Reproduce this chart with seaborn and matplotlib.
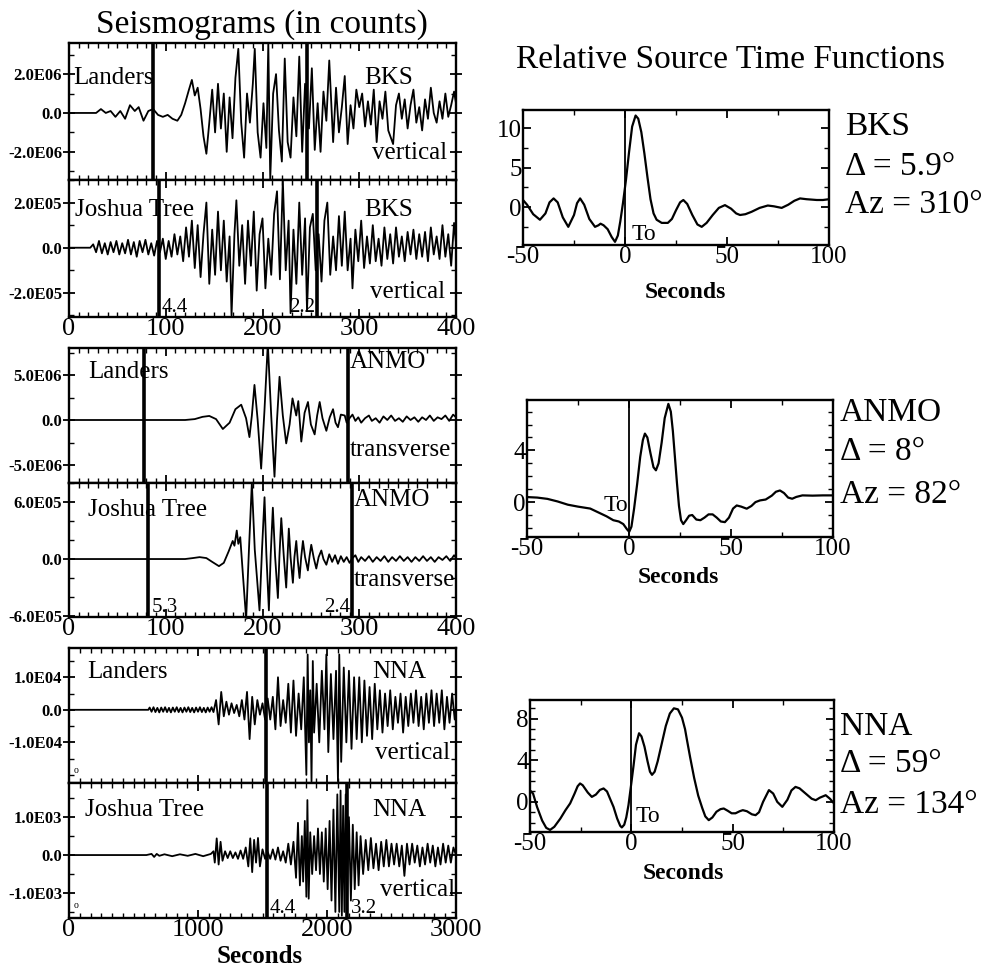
import numpy as np
import matplotlib
matplotlib.use("Agg")
import matplotlib.pyplot as plt
from matplotlib.ticker import MultipleLocator, FixedLocator
import seaborn as sns

sns.set_theme(style="ticks")
plt.rcParams['font.family'] = ['Liberation Serif', 'DejaVu Serif']
plt.rcParams.update({"text.color": "black", "axes.labelcolor": "black",
                     "xtick.color": "black", "ytick.color": "black", "axes.edgecolor": "black"})

# ---------------- data ----------------
# seismograms: (seconds, amplitude in units of the panel scale)
bks_landers = [(0,0),(28,0),(33,0.2),(38,0.0),(43,0.1),(48,-0.2),(53,0.1),(58,-0.3),(63,0.4),(68,0.1),
    (72,0.3),(77,-0.4),(82,0.1),(87,0.2),(92,-0.1),(97,-0.2),(102,-0.1),(107,-0.3),(112,-0.4),(116,-0.1),
    (120,0.5),(124,1.2),(127,1.7),(130,0.9),(133,1.3),(136,0.2),(139,-1.2),(142,-2.1),(145,-0.5),(148,1.2),
    (151,-1.0),(154,1.5),(157,-0.8),(160,1.0),(163,-2.0),(166,0.8),(169,-1.3),(172,1.8),(175,3.3),(178,-0.5),
    (181,-2.3),(184,1.0),(187,-0.5),(190,1.5),(192,3.3),(195,-1.0),(198,-2.3),(201,0.5),(204,-1.8),(206,3.6),
    (208,-3.4),(211,1.0),(214,2.0),(217,-0.9),(220,-2.5),(223,2.8),(226,-1.5),(229,-2.3),(232,0.8),(235,-1.2),
    (238,2.9),(241,-2.0),(244,1.5),(248,-0.8),(251,2.3),(254,-1.9),(257,0.5),(260,-2.0),(263,1.1),(266,-0.4),
    (269,2.7),(273,-1.5),(276,1.3),(279,-1.0),(282,0.3),(285,1.9),(288,-1.6),(291,0.4),(294,-0.8),(297,1.2),
    (300,0.3),(303,1.0),(306,-0.7),(309,0.6),(312,-0.6),(315,1.2),(318,-1.5),(321,0.6),(324,-0.3),(327,1.1),
    (330,-0.9),(335,-1.6),(338,0.4),(341,1.0),(344,-0.3),(347,0.7),(350,-0.8),(353,0.4),(356,1.2),(359,-0.5),
    (362,0.3),(365,-0.9),(368,0.7),(371,-0.3),(374,1.3),(377,0.0),(380,-0.5),(383,0.6),(386,-0.3),(389,1.0),
    (392,-0.2),(395,0.4),(398,1.1),(400,0.5)]
bks_joshua = [(0,0),(22,0),(25,0.15),(28,-0.2),(31,0.3),(34,-0.25),(37,0.2),(40,-0.3),(43,0.25),(46,-0.2),
    (49,0.3),(52,-0.3),(55,0.2),(58,-0.25),(61,0.35),(64,-0.3),(67,0.25),(70,-0.4),(73,0.3),(76,-0.2),
    (79,0.35),(82,-0.3),(85,0.2),(88,-0.35),(91,0.3),(94,-0.2),(97,0.4),(100,-0.5),(103,0.3),(106,-0.4),
    (109,0.6),(112,-0.3),(115,0.5),(118,-0.6),(121,0.9),(124,-0.4),(127,1.2),(130,-0.9),(133,1.0),(136,-1.3),
    (139,0.6),(142,2.0),(145,-1.6),(148,0.8),(151,-1.2),(154,1.6),(157,-1.0),(160,1.2),(163,-1.5),(166,0.5),
    (168,-3.0),(171,0.6),(173,2.1),(176,-0.8),(179,1.0),(182,-1.6),(185,1.2),(188,-0.8),(191,1.6),(194,-1.9),
    (197,0.6),(200,1.3),(203,-1.8),(206,0.4),(209,-1.2),(212,1.5),(215,2.5),(218,-1.4),(221,3.0),(224,-1.0),
    (227,1.2),(229,-2.9),(232,0.8),(235,-1.6),(238,2.0),(241,-1.2),(244,1.3),(246,-2.8),(249,0.9),(252,1.5),
    (255,-1.0),(258,0.6),(261,-1.5),(264,1.2),(267,2.0),(270,-1.2),(273,0.5),(276,-1.0),(279,1.4),(282,-0.8),
    (285,1.6),(288,-1.0),(291,0.4),(293,-1.8),(296,0.8),(299,-0.6),(302,1.2),(305,-0.9),(308,0.5),(311,-0.7),
    (314,1.0),(317,-0.6),(320,0.4),(323,-0.8),(326,0.9),(329,-0.5),(332,0.6),(335,-0.7),(338,0.9),(341,-0.4),
    (344,0.5),(347,-0.6),(350,0.7),(353,-0.3),(356,0.8),(359,-0.5),(362,0.6),(365,-0.4),(368,0.7),(371,-0.6),
    (374,0.9),(377,-0.3),(380,0.5),(383,-0.5),(386,1.0),(389,-0.4),(392,0.6),(395,-0.8),(398,1.1),(400,0.2)]
anmo_landers = [(0,0),(120,0),(130,0.1),(138,0.35),(145,0.45),(152,0.1),(159,-1.0),(166,-0.3),(172,1.2),
    (178,1.7),(183,0.2),(186.5,-1.9),(189,0.5),(191.7,3.9),(195,0.0),(198.6,-5.4),(202,1.0),(205.5,8.5),
    (209,0.5),(212.4,-6.3),(215,0.0),(217.6,4.8),(221,0.5),(224.5,-2.6),(228,-0.5),(231,2.4),(234.9,0.5),
    (237,2.1),(240.1,-2.4),(243.5,0.8),(247,2.0),(250,-0.5),(253.9,-1.6),(256.5,0.5),(259.1,2.0),(262,0.2),
    (266,-1.2),(269.5,0.3),(272.9,1.2),(275.5,-0.3),(278,-0.8),(281,0.6),(285,0.5),(287,-0.3),(290,0.2),
    (293,0.6),(296,-0.1),(299,0.3),(302,-0.3),(306,0.2),(310,0.5),(313,-0.1),(317,0.2),(321,-0.3),(325,0.4),
    (329,0.0),(333,0.5),(337,-0.1),(341,0.2),(345,-0.2),(349,0.4),(353,0.0),(357,0.3),(361,-0.2),(365,0.3),
    (369,0.0),(373,0.5),(377,-0.1),(381,0.3),(385,0.1),(389,0.5),(393,-0.1),(397,0.6),(400,0.3)]
anmo_joshua = [(0,0),(120,0),(128,0.1),(135,0.2),(142,0.1),(148,-0.3),(155,-0.75),(160,-0.4),(165,0.8),
    (169.2,1.9),(171,1.4),(173.4,3.0),(175,1.6),(177,2.3),(180,-2.0),(183.1,-6.3),(186,1.0),(189,8.0),
    (192,1.0),(196.9,-5.4),(199.5,1.0),(202.1,6.5),(204,0.5),(206.6,-5.4),(208.5,0.5),(210.7,5.4),(213,0.3),
    (215.9,-4.1),(217.5,0.3),(219.4,4.3),(222,0.3),(224.5,-3.0),(226,0.5),(227.2,3.2),(229,0.2),(231.4,-2.5),
    (233,0.2),(234.9,1.9),(236.5,-0.2),(238.3,-2.0),(240,0.2),(241.8,1.9),(244,0.2),(246.9,-1.2),(248.5,0.2),
    (250.4,1.5),(253,0.1),(255.6,-1.0),(258,0.2),(260.8,0.9),(263,0.0),(266,-0.6),(269,0.5),(272,-0.3),
    (275,0.4),(278,-0.5),(281,0.3),(284,-0.3),(287,0.2),(290,-0.4),(293,0.1),(296,0.4),(299,-0.3),(302,0.2),
    (306,-0.2),(310,0.3),(314,-0.3),(318,0.2),(322,-0.2),(326,0.3),(330,-0.3),(334,0.2),(338,-0.2),(342,0.3),
    (346,-0.2),(350,0.2),(354,-0.3),(358,0.2),(362,-0.2),(366,0.3),(370,-0.2),(374,0.2),(378,-0.3),(382,0.2),
    (386,-0.1),(390,0.3),(394,-0.2),(398,0.4),(400,0.1)]
nna_landers = [(0,0),(615,0),(625,0.07),(640,-0.06),(655,0.08),(670,-0.07),(685,0.06),(700,-0.08),
    (715,0.07),(730,-0.06),(745,0.08),(760,-0.07),(775,0.06),(790,-0.08),(805,0.07),(820,-0.06),
    (835,0.08),(850,-0.07),(865,0.06),(880,-0.08),(895,0.07),(910,-0.06),(925,0.08),(940,-0.07),
    (955,0.06),(970,-0.08),(985,0.07),(1000,-0.06),(1015,0.08),(1030,-0.07),(1045,0.06),(1060,-0.08),
    (1075,0.07),(1090,-0.06),(1105,0.08),(1120,-0.07),
    (1140,0.3),(1160,-0.45),(1180,0.55),(1200,-0.2),(1220,0.25),(1240,-0.15),(1260,0.2),(1280,-0.1),
    (1300,0.15),(1320,-0.2),(1340,0.3),(1360,-0.3),(1380,0.55),(1400,-0.9),(1420,0.4),(1440,-0.45),
    (1460,0.3),(1480,-0.15),(1500,0.2),(1520,-0.3),(1540,0.35),(1560,-0.3),(1580,0.4),(1600,-0.6),
    (1620,1.0),(1640,-0.5),(1660,0.3),(1680,-0.4),(1700,0.8),(1720,-0.7),(1740,0.9),(1760,-0.8),
    (1780,0.5),(1800,-0.6),(1820,1.0),(1840,-2.0),(1850,1.7),(1860,-1.0),(1870,0.6),(1880,-2.2),
    (1890,1.5),(1900,-0.7),(1920,0.8),(1940,-1.0),(1960,1.2),(1980,-0.6),(1995,1.7),(2010,-1.3),
    (2030,1.1),(2050,-0.9),(2070,1.2),(2085,-2.2),(2095,1.7),(2110,-1.6),(2130,1.3),(2150,-1.0),
    (2170,1.2),(2190,-1.2),(2210,1.0),(2230,-0.9),(2250,1.0),(2270,-1.0),(2290,0.9),(2310,-0.8),
    (2330,0.7),(2350,-0.9),(2370,0.8),(2390,-0.6),(2410,0.6),(2430,-0.7),(2450,0.5),(2470,-0.5),
    (2490,0.6),(2510,-0.6),(2530,0.4),(2550,-0.4),(2570,0.5),(2590,-0.7),(2610,0.4),(2630,-0.5),
    (2650,0.5),(2670,-0.4),(2690,0.6),(2710,-0.5),(2730,0.4),(2750,-0.6),(2770,0.5),(2790,-0.4),
    (2810,0.6),(2830,-0.5),(2850,0.5),(2870,-0.4),(2890,0.6),(2910,-0.6),(2930,0.4),(2950,-0.4),
    (2970,0.5),(2990,-0.3),(3000,0.1)]
nna_joshua = [(0,0),(600,0),(640,0.03),(660,-0.05),(680,0.03),(700,-0.02),(740,0.02),(800,-0.03),
    (860,0.02),(920,-0.02),(980,0.03),(1040,-0.03),(1100,0.03),
    (1120,0.1),(1130,-0.2),(1145,0.44),(1160,-0.25),(1175,0.35),(1190,-0.15),(1210,0.1),(1230,-0.08),
    (1250,0.1),(1270,-0.08),(1290,0.07),(1310,-0.1),(1330,0.12),(1350,-0.1),(1370,0.2),(1390,-0.3),
    (1405,0.44),(1420,-0.45),(1435,0.4),(1450,-0.2),(1465,0.45),(1480,-0.3),(1500,0.15),(1520,-0.1),
    (1540,0.08),(1560,-0.1),(1580,0.15),(1600,-0.12),(1620,0.2),(1640,-0.15),(1660,0.1),(1680,-0.2),
    (1700,0.3),(1720,-0.25),(1740,0.35),(1760,-0.6),(1775,0.85),(1790,-0.8),(1805,0.5),(1815,-0.7),
    (1828,0.9),(1840,-1.1),(1848,1.45),(1858,-1.15),(1870,0.6),(1885,-0.5),(1900,0.5),(1915,-0.4),
    (1930,0.7),(1945,-0.5),(1960,0.6),(1975,-0.7),(1990,0.7),(2005,-0.9),(2020,0.9),(2035,-1.2),
    (2050,1.2),(2065,-1.5),(2080,1.6),(2095,-1.5),(2105,1.7),(2115,-1.6),(2125,1.3),(2135,-1.5),
    (2145,1.6),(2155,-1.3),(2170,1.0),(2185,-1.2),(2200,0.8),(2215,-0.9),(2230,0.6),(2245,-0.8),
    (2260,0.5),(2280,-0.5),(2300,0.4),(2320,-0.4),(2340,0.45),(2360,-0.35),(2380,0.3),(2400,-0.4),
    (2420,0.35),(2440,-0.3),(2460,0.4),(2480,-0.3),(2500,0.3),(2520,-0.25),(2540,0.3),(2560,-0.3),
    (2580,0.25),(2600,-0.55),(2620,0.3),(2640,-0.25),(2660,0.3),(2680,-0.2),(2700,0.25),(2720,-0.3),
    (2740,0.2),(2760,-0.25),(2780,0.3),(2800,-0.2),(2820,0.25),(2840,-0.3),(2860,0.2),(2880,-0.25),
    (2900,0.3),(2920,-0.2),(2940,0.25),(2960,-0.2),(2980,0.2),(3000,0.0)]

# relative source time functions: (seconds, amplitude)
rstf_bks = [(-50,0.9),(-48,0.3),(-45,-0.9),(-41.7,-1.6),(-39,-0.8),(-37,0.6),(-35,1.1),(-33,0.6),
    (-30.5,-1.3),(-27.8,-2.5),(-25,-1.0),(-23.5,0.5),(-22,1.1),(-20,0.3),(-17.5,-1.5),(-14.7,-2.5),
    (-13,-2.3),(-12,-2.1),(-10.5,-2.3),(-8.5,-2.8),(-6.5,-3.8),(-4.9,-4.4),(-3.5,-3.6),(-2.3,-1.8),
    (-1,0.5),(0.5,3.5),(2,7.0),(3.5,10.2),(5.2,11.6),(6.5,11.2),(8,9.5),(9.5,6.8),(11,3.8),(12.5,1.0),
    (14,-0.8),(15.5,-1.6),(18,-2.0),(21,-2.0),(23,-1.5),(25,-0.4),(27,0.6),(28.6,0.9),(30.5,0.4),
    (33,-1.0),(35.5,-2.2),(37.6,-2.5),(40,-2.0),(43,-1.0),(46,-0.1),(49,0.25),(52,-0.2),(54.5,-0.8),
    (56.4,-1.0),(59,-0.9),(62,-0.6),(66,-0.1),(70,0.2),(73,0.1),(76.8,-0.1),(80,0.3),(83,0.8),
    (85.8,1.1),(89,1.0),(94,0.9),(97,0.9),(100,1.0)]
rstf_anmo = [(-50,0.39),(-45,0.35),(-40,0.25),(-35,0.05),(-30,-0.2),(-25,-0.35),(-19,-0.5),(-15,-0.8),
    (-11,-1.1),(-7.7,-1.4),(-5,-1.5),(-2.8,-1.7),(-1,-2.1),(0.1,-2.3),(1.2,-1.9),(2.5,-0.5),(4,1.4),
    (5.5,3.5),(6.8,4.8),(7.8,5.3),(9,5.0),(10.5,3.8),(12,2.7),(13.2,2.46),(14.5,3.0),(16,4.6),(17.5,6.5),
    (19.3,7.6),(20.5,7.0),(21.5,5.5),(22.5,3.5),(23.5,1.5),(24.5,-0.3),(25.5,-1.4),(26.6,-1.7),(28,-1.4),
    (29.5,-1.05),(31,-1.0),(33,-1.35),(35,-1.4),(37,-1.2),(39,-0.95),(41,-0.95),(43,-1.2),(45,-1.5),
    (47,-1.55),(49,-1.2),(51,-0.5),(52.8,-0.26),(55,-0.35),(57.7,-0.51),(60,-0.3),(62,0.0),(64.2,0.13),
    (67,0.2),(70,0.5),(72,0.8),(74,0.9),(76,0.7),(78,0.35),(80,0.26),(82,0.4),(85,0.52),(90,0.5),
    (95,0.52),(100,0.52)]
rstf_nna = [(-50,1.1),(-48.5,0.8),(-46.5,-0.5),(-44,-1.8),(-42,-2.5),(-40.1,-2.7),(-38,-2.4),(-35,-1.6),
    (-32.5,-0.8),(-30.2,-0.15),(-28,0.8),(-26.5,1.5),(-25.3,1.77),(-24,1.6),(-21.5,0.9),(-19.5,0.48),
    (-17.5,0.7),(-15.5,1.15),(-13.7,1.29),(-12,1.0),(-10.5,0.3),(-8.8,-0.48),(-7,-1.6),(-5.5,-2.3),
    (-4.7,-2.46),(-3.5,-2.2),(-2.5,-1.5),(-1.4,-0.3),(-0.2,1.5),(1.1,3.5),(2.3,5.5),(3.8,6.6),(5,6.3),
    (6.5,5.3),(8,3.9),(9.2,2.9),(10.2,2.6),(11.5,2.9),(13,3.9),(15,5.6),(17,7.3),(19,8.5),(21,9.0),
    (23,8.9),(25,8.1),(26.5,7.0),(27.5,5.9),(29,4.3),(31,2.3),(33,0.6),(35,-0.6),(36.5,-1.4),(38.2,-1.76),
    (40,-1.5),(42,-0.95),(44,-0.7),(45.6,-0.64),(47.5,-0.85),(49.5,-1.1),(51.4,-1.1),(53.5,-0.9),
    (55,-0.8),(57,-0.9),(59.5,-1.2),(61.3,-1.28),(63,-1.0),(65,0.0),(67.9,1.13),(70,0.8),(72,0.0),
    (74.5,-0.48),(77,0.2),(79,1.1),(81,1.44),(83,1.3),(86,0.8),(89,0.3),(91,0.16),(93,0.4),(95.9,0.64),
    (98,0.3),(100,-0.15)]

# panel annotations
stations = ["BKS", "BKS", "ANMO", "ANMO", "NNA", "NNA"]
events = ["Landers", "Joshua Tree", "Landers", "Joshua Tree", "Landers", "Joshua Tree"]
components = ["vertical", "vertical", "transverse", "transverse", "vertical", "vertical"]
scales = [1e6, 1e5, 1e6, 1e5, 1e4, 1e3]
ytick_vals = [[2e6, 0, -2e6], [2e5, 0, -2e5], [5e6, 0, -5e6], [6e5, 0, -6e5], [1e4, 0, -1e4], [1e3, 0, -1e3]]
ytick_text = [["2.0E06", "0.0", "-2.0E06"], ["2.0E05", "0.0", "-2.0E05"], ["5.0E06", "0.0", "-5.0E06"],
              ["6.0E05", "0.0", "-6.0E05"], ["1.0E04", "0.0", "-1.0E04"], ["1.0E03", "0.0", "-1.0E03"]]
marker_times = [[87, 245.6], [92.6, 256], [77.7, 288], [81.9, 292], [1529], [1533, 2158]]
marker_labels = [[None, None], ["4.4", "2.2"], [None, None], ["5.3", "2.4"], [None], ["4.4", "3.2"]]
xticks_short = [0, 100, 200, 300, 400]
xticks_long = [0, 1000, 2000, 3000]
rstf_info = [("BKS", "\u0394 = 5.9\u00b0", "Az = 310\u00b0"),
             ("ANMO", "\u0394 = 8\u00b0", "Az = 82\u00b0"),
             ("NNA", "\u0394 = 59\u00b0", "Az = 134\u00b0")]
rstf_xticks = [-50, 0, 50, 100]
rstf_yticks = [[0, 5, 10], [0, 4], [0, 4, 8]]

# ---------------- layout ----------------
W, H = 985, 972
fig = plt.figure(figsize=(W / 100, H / 100), dpi=100)
fig.patch.set_facecolor("white")

def rect(x0, y0, x1, y1):
    return [x0 / W, 1 - y1 / H, (x1 - x0) / W, (y1 - y0) / H]

left_rects = [rect(69, 43, 456, 180), rect(69, 180, 456, 317), rect(69, 348, 456, 483),
              rect(69, 483, 456, 617), rect(69, 648, 456, 783), rect(69, 783, 456, 918)]
ylims = [(-3.45e6, 3.6e6), (-3.07e5, 3.0e5), (-7e6, 8e6), (-6.1e5, 8e5), (-2.25e4, 1.9e4), (-1.66e3, 1.9e3)]
yminor = [1e6, 1e5, 2.5e6, 2e5, 0.5e4, 0.5e3]
traces = [bks_landers, bks_joshua, anmo_landers, anmo_joshua, nna_landers, nna_joshua]

ev_pos = [(0.01, 0.745), (0.016, 0.78), (0.05, 0.82), (0.05, 0.80), (0.046, 0.82), (0.041, 0.80)]
st_pos = [(0.889, 0.745, "right"), (0.889, 0.78, "right"), (None, 0.90, "left"), (None, 0.87, "left"),
          (0.924, 0.82, "right"), (0.924, 0.80, "right")]
comp_pos = [(0.977, 0.197, "right"), (0.972, 0.185, "right"), (None, 0.245, "left"), (None, 0.276, "left"),
            (0.985, 0.22, "right"), (0.997, 0.207, "right")]
mlab_ha = [["left", "right"], ["left", "right"], ["left", "right"], ["left", "right"], ["left"], ["left", "left"]]

def style(ax):
    for s in ax.spines.values():
        s.set_linewidth(1.7)
        s.set_color("black")
    ax.set_facecolor("white")
    ax.tick_params(which="both", direction="in", top=True, right=True, colors="black")
    ax.tick_params(which="major", length=6, width=1.3)
    ax.tick_params(which="minor", length=3.5, width=1.0)
    ax.grid(False)

for i in range(6):
    ax = fig.add_axes(left_rects[i])
    arr = np.array(traces[i], dtype=float)
    sns.lineplot(x=arr[:, 0], y=arr[:, 1] * scales[i], ax=ax, color="black", lw=1.3,
                 estimator=None, sort=False)
    long = i >= 4
    xmax = 3000 if long else 400
    ax.set_xlim(0, xmax)
    ax.set_ylim(*ylims[i])
    style(ax)
    ax.yaxis.set_major_locator(FixedLocator(ytick_vals[i]))
    ax.set_yticklabels(ytick_text[i], fontsize=12, fontweight="bold")
    ax.yaxis.set_minor_locator(MultipleLocator(yminor[i]))
    ax.tick_params(axis="y", which="major", direction="inout", length=8, pad=1)
    ax.xaxis.set_major_locator(FixedLocator(xticks_long if long else xticks_short))
    ax.xaxis.set_minor_locator(MultipleLocator(250 / 3 if long else 10))
    if i % 2 == 1:
        ax.set_xticklabels([str(v) for v in (xticks_long if long else xticks_short)], fontsize=19)
        ax.tick_params(axis="x", which="major", pad=1)
    else:
        ax.set_xticklabels([])
    ax.set_xlabel("")
    ax.set_ylabel("")
    for j, tm in enumerate(marker_times[i]):
        ax.axvline(tm, color="black", lw=2.6)
        lab = marker_labels[i][j]
        if lab:
            ha = mlab_ha[i][j]
            off = xmax * (0.008 if ha == "left" else -0.004)
            ax.text(tm + off, 0, lab, transform=ax.get_xaxis_transform(), ha=ha, va="bottom",
                    fontsize=15)
    ax.text(ev_pos[i][0], ev_pos[i][1], events[i], transform=ax.transAxes, fontsize=18,
            ha="left", va="center")
    sx, sy, sha = st_pos[i]
    if sx is None:
        sx = (marker_times[i][1] + 2) / xmax
    ax.text(sx, sy, stations[i], transform=ax.transAxes, fontsize=18, ha=sha, va="center")
    cx, cy, cha = comp_pos[i]
    if cx is None:
        cx = (marker_times[i][1] + 2) / xmax
    ax.text(cx, cy, components[i], transform=ax.transAxes, fontsize=18, ha=cha, va="center")
    if long:
        ax.text(0.012, 0.09, "o", transform=ax.transAxes, fontsize=7, ha="left", va="center")

fig.text(262 / W, 1 - 25 / H, "Seismograms (in counts)", fontsize=24, ha="center", va="center")
fig.text(260 / W, 1 - 956 / H, "Seconds", fontsize=18, fontweight="bold", ha="center", va="center")
fig.text(731 / W, 1 - 60 / H, "Relative Source Time Functions", fontsize=24, ha="center", va="center")

right_rects = [rect(523, 110, 829, 245), rect(527, 400, 833, 537), rect(530, 700, 834, 832)]
r_ylims = [(-4.8, 12.3), (-2.7, 7.9), (-2.9, 9.8)]
r_yminor = [2.5, 1, 1]
r_series = [rstf_bks, rstf_anmo, rstf_nna]
to_pos = [(3.4, -3.5, "left"), (-0.5, -0.26, "right"), (2.0, -1.4, "left")]
info_x = [1.052, 1.023, 1.02]
info_y = [(0.874, 0.578, 0.296), (0.905, 0.623, 0.307), (0.80, 0.52, 0.205)]
sec_pos = [(685, 293), (678, 577), (683, 873)]

for k in range(3):
    ax = fig.add_axes(right_rects[k])
    arr = np.array(r_series[k], dtype=float)
    sns.lineplot(x=arr[:, 0], y=arr[:, 1], ax=ax, color="black", lw=1.6, estimator=None, sort=False)
    ax.set_xlim(-50, 100)
    ax.set_ylim(*r_ylims[k])
    style(ax)
    ax.axvline(0, color="black", lw=1.3)
    ax.xaxis.set_major_locator(FixedLocator(rstf_xticks))
    ax.set_xticklabels([str(v) for v in rstf_xticks], fontsize=18)
    ax.xaxis.set_minor_locator(MultipleLocator(25))
    ax.yaxis.set_major_locator(FixedLocator(rstf_yticks[k]))
    ax.set_yticklabels([str(v) for v in rstf_yticks[k]], fontsize=18)
    ax.yaxis.set_minor_locator(MultipleLocator(r_yminor[k]))
    ax.tick_params(axis="both", which="major", pad=1)
    ax.set_xlabel("")
    ax.set_ylabel("")
    tx, ty, tha = to_pos[k]
    ax.text(tx, ty, "To", fontsize=17, ha=tha, va="center")
    for line, yy in zip(rstf_info[k], info_y[k]):
        ax.text(info_x[k], yy, line, transform=ax.transAxes, fontsize=24, ha="left", va="center",
                clip_on=False)
    fig.text(sec_pos[k][0] / W, 1 - sec_pos[k][1] / H, "Seconds", fontsize=17, fontweight="bold",
             ha="center", va="center")

fig.savefig("out.png", dpi=100, facecolor="white")
